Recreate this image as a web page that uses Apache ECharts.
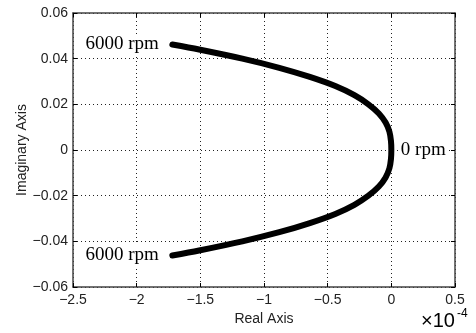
<!DOCTYPE html>
<html>
<head>
<meta charset="utf-8">
<script src="https://cdn.jsdelivr.net/npm/echarts@6/dist/echarts.min.js"></script>
<style>
  html, body { margin: 0; padding: 0; background: #fff; }
  #chart { width: 476px; height: 333px; }
</style>
</head>
<body>
<div id="chart"></div>
<script>
// root locus, top branch end -> 0 rpm -> bottom branch end (real part in 1e-4)
const realPart = [-1.72, -1.51, -1.17, -0.88, -0.64, -0.44, -0.29, -0.18, -0.098, -0.045, -0.015, -0.003, 0.0,
                  -0.003, -0.015, -0.045, -0.098, -0.18, -0.29, -0.44, -0.64, -0.88, -1.17, -1.51, -1.72];
const imagPart = [0.0462, 0.044, 0.040, 0.036, 0.032, 0.028, 0.024, 0.020, 0.016, 0.012, 0.008, 0.004, 0,
                  -0.004, -0.008, -0.012, -0.016, -0.020, -0.024, -0.028, -0.032, -0.036, -0.040, -0.044, -0.0462];
const pointLabels = { 0: '6000 rpm', 12: '0 rpm', 24: '6000 rpm' };
const xTicks = [-2.5, 0.5, 0.5];   // min, max, interval
const yTicks = [-0.06, 0.06, 0.02];

const myChart = echarts.init(document.getElementById('chart'));

const minus = v => String(v).replace('-', '\u2212');
const tickFont = 'Liberation Sans Narrow, Liberation Sans, Arial, sans-serif';
const axisColor = '#444';
const gridLine = { show: true, lineStyle: { color: '#222', type: [1, 3], width: 1 } };

const data = realPart.map((x, i) => {
    const item = { value: [x, imagPart[i]] };
    if (pointLabels[i]) {
        item.label = {
            show: true,
            formatter: pointLabels[i],
            position: i === 12 ? 'right' : 'left',
            distance: i === 12 ? 7 : 11,
            fontFamily: 'Liberation Serif, Times New Roman, serif',
            fontSize: 19,
            color: '#000',
            backgroundColor: '#fff',
            padding: [1, 2]
        };
    }
    return item;
});

const frameAxis = { show: true, onZero: false, lineStyle: { color: axisColor, width: 1.5 } };
const innerTicks = { show: true, inside: true, length: 4, lineStyle: { color: '#000' } };

const option = {
    animation: false,
    grid: { left: 73, right: 21, top: 13, bottom: 46 },
    xAxis: [{
        type: 'value',
        min: xTicks[0], max: xTicks[1], interval: xTicks[2],
        name: 'Real Axis',
        nameLocation: 'middle',
        nameGap: 25,
        nameMoveOverlap: false,
        nameTextStyle: { fontFamily: 'Liberation Sans, Arial, sans-serif', fontSize: 14, color: '#222' },
        axisLine: frameAxis,
        axisTick: innerTicks,
        axisLabel: { formatter: minus, margin: 6, fontFamily: tickFont, fontSize: 14, color: '#222' },
        splitLine: gridLine
    }, {
        type: 'value', position: 'top',
        min: xTicks[0], max: xTicks[1], interval: xTicks[2],
        axisLine: frameAxis,
        axisTick: innerTicks,
        axisLabel: { show: false },
        splitLine: { show: false }
    }],
    yAxis: [{
        type: 'value',
        min: yTicks[0], max: yTicks[1], interval: yTicks[2],
        name: 'Imaginary Axis',
        nameLocation: 'middle',
        nameGap: 44,
        nameMoveOverlap: false,
        nameTextStyle: { fontFamily: 'Liberation Sans, Arial, sans-serif', fontSize: 14, color: '#222' },
        axisLine: frameAxis,
        axisTick: innerTicks,
        axisLabel: { formatter: minus, margin: 5, fontFamily: tickFont, fontSize: 14, color: '#222' },
        splitLine: gridLine
    }, {
        type: 'value', position: 'right',
        min: yTicks[0], max: yTicks[1], interval: yTicks[2],
        axisLine: frameAxis,
        axisTick: innerTicks,
        axisLabel: { show: false },
        splitLine: { show: false }
    }],
    graphic: [
        { type: 'text', left: 421, top: 311,
          style: { text: '\u00d710', fontFamily: 'Liberation Sans, Arial, sans-serif', fontSize: 20, fill: '#000' } },
        { type: 'text', left: 457, top: 308,
          style: { text: '-4', fontFamily: 'Liberation Sans, Arial, sans-serif', fontSize: 12, fill: '#000' } }
    ],
    series: [{
        type: 'line',
        data: data,
        smooth: 0.3,
        showSymbol: true,
        symbol: 'circle',
        symbolSize: 1,
        itemStyle: { color: '#000' },
        lineStyle: { color: '#000', width: 6, cap: 'round', join: 'round' }
    }]
};
myChart.setOption(option);
</script>
</body>
</html>
